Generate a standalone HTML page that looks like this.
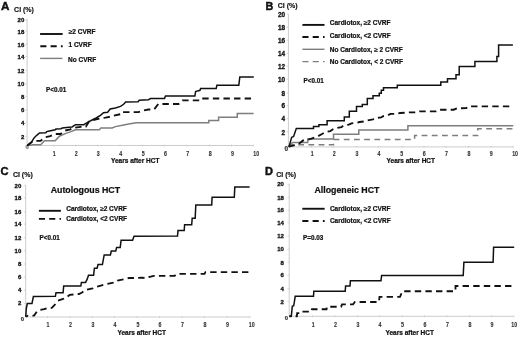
<!DOCTYPE html>
<html><head><meta charset="utf-8"><style>
html,body{margin:0;padding:0;background:#fff;}
svg{display:block;will-change:transform;}
text{font-family:"Liberation Sans", sans-serif;}
</style></head><body>
<svg width="520" height="338" viewBox="0 0 520 338">
<rect width="520" height="338" fill="#fff"/>
<text x="1.0" y="9.5" font-size="11.7" font-weight="bold" text-anchor="start" fill="#111" stroke="#111" stroke-width="0.45">A</text>
<text x="14.1" y="11.6" font-size="7.0" font-weight="bold" text-anchor="start" fill="#111" stroke="#111" stroke-width="0.15">CI (%)</text>
<line x1="27.1" y1="18.8" x2="27.1" y2="145.5" stroke="#cdcdcd" stroke-width="1"/>
<line x1="27.1" y1="145.5" x2="253.5" y2="145.5" stroke="#cdcdcd" stroke-width="1"/>
<line x1="25.3" y1="19.8" x2="27.1" y2="19.8" stroke="#cdcdcd" stroke-width="0.8"/>
<text x="24.3" y="22.3" font-size="6.0" font-weight="bold" text-anchor="end" fill="#111" stroke="#111" stroke-width="0.3">20</text>
<line x1="25.3" y1="31.35" x2="27.1" y2="31.35" stroke="#cdcdcd" stroke-width="0.8"/>
<text x="24.3" y="33.85" font-size="6.0" font-weight="bold" text-anchor="end" fill="#111" stroke="#111" stroke-width="0.3">18</text>
<line x1="25.3" y1="44.4" x2="27.1" y2="44.4" stroke="#cdcdcd" stroke-width="0.8"/>
<text x="24.3" y="46.9" font-size="6.0" font-weight="bold" text-anchor="end" fill="#111" stroke="#111" stroke-width="0.3">16</text>
<line x1="25.3" y1="56.5" x2="27.1" y2="56.5" stroke="#cdcdcd" stroke-width="0.8"/>
<text x="24.3" y="59.0" font-size="6.0" font-weight="bold" text-anchor="end" fill="#111" stroke="#111" stroke-width="0.3">14</text>
<line x1="25.3" y1="70.39999999999999" x2="27.1" y2="70.39999999999999" stroke="#cdcdcd" stroke-width="0.8"/>
<text x="24.3" y="72.89999999999999" font-size="6.0" font-weight="bold" text-anchor="end" fill="#111" stroke="#111" stroke-width="0.3">12</text>
<line x1="25.3" y1="83.6" x2="27.1" y2="83.6" stroke="#cdcdcd" stroke-width="0.8"/>
<text x="24.3" y="86.1" font-size="6.0" font-weight="bold" text-anchor="end" fill="#111" stroke="#111" stroke-width="0.3">10</text>
<line x1="25.3" y1="96.6" x2="27.1" y2="96.6" stroke="#cdcdcd" stroke-width="0.8"/>
<text x="24.3" y="99.1" font-size="6.0" font-weight="bold" text-anchor="end" fill="#111" stroke="#111" stroke-width="0.3">8</text>
<line x1="25.3" y1="109.8" x2="27.1" y2="109.8" stroke="#cdcdcd" stroke-width="0.8"/>
<text x="24.3" y="112.3" font-size="6.0" font-weight="bold" text-anchor="end" fill="#111" stroke="#111" stroke-width="0.3">6</text>
<line x1="25.3" y1="122.8" x2="27.1" y2="122.8" stroke="#cdcdcd" stroke-width="0.8"/>
<text x="24.3" y="125.3" font-size="6.0" font-weight="bold" text-anchor="end" fill="#111" stroke="#111" stroke-width="0.3">4</text>
<line x1="25.3" y1="136.4" x2="27.1" y2="136.4" stroke="#cdcdcd" stroke-width="0.8"/>
<text x="24.3" y="138.9" font-size="6.0" font-weight="bold" text-anchor="end" fill="#111" stroke="#111" stroke-width="0.3">2</text>
<text x="27.1" y="149.0" font-size="5.9" font-weight="bold" text-anchor="middle" fill="#777" stroke="#777" stroke-width="0.22">0</text>
<line x1="53.7" y1="144.5" x2="53.7" y2="146.5" stroke="#cdcdcd" stroke-width="0.8"/>
<text x="54.3" y="155.6" font-size="6.6" font-weight="bold" text-anchor="middle" fill="#333" stroke="#333" stroke-width="0.12" transform="translate(54.3 0) scale(0.8 1) translate(-54.3 0)">1</text>
<line x1="75.7" y1="144.5" x2="75.7" y2="146.5" stroke="#cdcdcd" stroke-width="0.8"/>
<text x="76.25" y="155.6" font-size="6.6" font-weight="bold" text-anchor="middle" fill="#333" stroke="#333" stroke-width="0.12" transform="translate(76.25 0) scale(0.8 1) translate(-76.25 0)">2</text>
<line x1="97.7" y1="144.5" x2="97.7" y2="146.5" stroke="#cdcdcd" stroke-width="0.8"/>
<text x="98.25" y="155.6" font-size="6.6" font-weight="bold" text-anchor="middle" fill="#333" stroke="#333" stroke-width="0.12" transform="translate(98.25 0) scale(0.8 1) translate(-98.25 0)">3</text>
<line x1="120.0" y1="144.5" x2="120.0" y2="146.5" stroke="#cdcdcd" stroke-width="0.8"/>
<text x="120.75" y="155.6" font-size="6.6" font-weight="bold" text-anchor="middle" fill="#333" stroke="#333" stroke-width="0.12" transform="translate(120.75 0) scale(0.8 1) translate(-120.75 0)">4</text>
<line x1="142.5" y1="144.5" x2="142.5" y2="146.5" stroke="#cdcdcd" stroke-width="0.8"/>
<text x="143.25" y="155.6" font-size="6.6" font-weight="bold" text-anchor="middle" fill="#333" stroke="#333" stroke-width="0.12" transform="translate(143.25 0) scale(0.8 1) translate(-143.25 0)">5</text>
<line x1="164.5" y1="144.5" x2="164.5" y2="146.5" stroke="#cdcdcd" stroke-width="0.8"/>
<text x="165.5" y="155.6" font-size="6.6" font-weight="bold" text-anchor="middle" fill="#333" stroke="#333" stroke-width="0.12" transform="translate(165.5 0) scale(0.8 1) translate(-165.5 0)">6</text>
<line x1="187.0" y1="144.5" x2="187.0" y2="146.5" stroke="#cdcdcd" stroke-width="0.8"/>
<text x="187.75" y="155.6" font-size="6.6" font-weight="bold" text-anchor="middle" fill="#333" stroke="#333" stroke-width="0.12" transform="translate(187.75 0) scale(0.8 1) translate(-187.75 0)">7</text>
<line x1="209.5" y1="144.5" x2="209.5" y2="146.5" stroke="#cdcdcd" stroke-width="0.8"/>
<text x="210.3" y="155.6" font-size="6.6" font-weight="bold" text-anchor="middle" fill="#333" stroke="#333" stroke-width="0.12" transform="translate(210.3 0) scale(0.8 1) translate(-210.3 0)">8</text>
<line x1="231.4" y1="144.5" x2="231.4" y2="146.5" stroke="#cdcdcd" stroke-width="0.8"/>
<text x="232.6" y="155.6" font-size="6.6" font-weight="bold" text-anchor="middle" fill="#333" stroke="#333" stroke-width="0.12" transform="translate(232.6 0) scale(0.8 1) translate(-232.6 0)">9</text>
<line x1="253.3" y1="144.5" x2="253.3" y2="146.5" stroke="#cdcdcd" stroke-width="0.8"/>
<text x="256.3" y="155.6" font-size="6.6" font-weight="bold" text-anchor="middle" fill="#333" stroke="#333" stroke-width="0.12" transform="translate(256.3 0) scale(0.8 1) translate(-256.3 0)">10</text>
<text x="111.0" y="162.5" font-size="6.5" font-weight="bold" text-anchor="start" fill="#111" stroke="#111" stroke-width="0.22">Years after HCT</text>
<line x1="40.1" y1="34.0" x2="62.65" y2="34.0" stroke="#111" stroke-width="1.9"/>
<text x="68.75" y="34.4" font-size="6.5" font-weight="bold" text-anchor="start" fill="#111" stroke="#111" stroke-width="0.22">≥2 CVRF</text>
<line x1="40.3" y1="46.3" x2="62.65" y2="46.3" stroke="#111" stroke-width="1.9" stroke-dasharray="6.1,4.2"/>
<text x="68.5" y="47.4" font-size="6.5" font-weight="bold" text-anchor="start" fill="#111" stroke="#111" stroke-width="0.22">1 CVRF</text>
<line x1="40.1" y1="58.4" x2="62.4" y2="58.4" stroke="#7e7e7e" stroke-width="1.4"/>
<text x="68.0" y="61.8" font-size="6.5" font-weight="bold" text-anchor="start" fill="#111" stroke="#111" stroke-width="0.22">No CVRF</text>
<text x="46.0" y="92.1" font-size="6.3" font-weight="bold" text-anchor="start" fill="#111" stroke="#111" stroke-width="0.22">P&lt;0.01</text>
<polyline points="27.3,145.5 33.3,144.7 40.7,144.7 44.5,140.8 55.2,140.8 59.4,136.2 65.8,133.4 70.4,131.9 75.5,129.8 99.3,129.8 100.9,128.0 112.2,128.0 115.4,126.6 123.6,125.0 128.8,124.0 136.1,122.7 208.8,122.7 208.8,120.5 218.6,120.5 218.6,117.3 237.3,117.3 237.3,113.5 253.6,113.5" fill="none" stroke="#7e7e7e" stroke-width="1.5"/>
<polyline points="27.3,145.6 29.5,143.8 31.5,142.2 33.5,141.0 36.0,140.8 40.6,140.8 45.2,137.3 50.2,136.2 55.2,134.0 60.5,134.0 65.1,130.5 70.4,129.3 72.0,128.0 74.5,127.8 80.7,126.9 85.9,126.7 89.0,121.6 95.2,119.5 99.9,118.5 105.5,117.6 110.2,116.7 113.3,115.7 120.5,114.2 121.6,112.1 138.1,112.1 143.3,110.5 148.5,109.5 154.1,109.5 158.3,104.0 178.6,104.0 180.6,101.9 182.5,100.4 199.6,100.4 200.6,98.5 253.8,98.5" fill="none" stroke="#111" stroke-width="1.85" stroke-dasharray="6.4,4.2" stroke-dashoffset="0"/>
<polyline points="27.3,145.6 29.5,143.8 31.5,142.2 33.0,139.6 34.3,137.7 36.2,135.8 37.6,134.6 39.6,133.0 45.9,132.7 46.7,131.6 49.5,130.9 55.2,129.8 55.9,129.1 60.9,128.7 62.3,128.0 68.7,127.3 72.0,127.0 75.5,124.7 83.8,124.7 88.0,122.1 92.1,120.0 96.2,118.0 100.4,115.4 103.5,112.8 107.6,112.2 110.2,109.0 115.4,107.9 120.5,106.4 123.6,104.3 125.7,102.0 138.1,101.7 139.2,100.2 148.5,99.7 150.5,98.6 164.5,98.6 165.5,96.0 194.9,96.0 195.6,91.6 197.6,90.9 200.0,90.3 200.6,88.5 216.2,88.5 216.9,85.2 238.8,85.2 239.8,76.9 253.8,76.9" fill="none" stroke="#111" stroke-width="1.5" stroke-linejoin="miter"/>
<text x="265.6" y="9.6" font-size="10.8" font-weight="bold" text-anchor="start" fill="#111" stroke="#111" stroke-width="0.45">B</text>
<text x="277.7" y="7.9" font-size="7.0" font-weight="bold" text-anchor="start" fill="#111" stroke="#111" stroke-width="0.15">CI (%)</text>
<line x1="288.4" y1="14.2" x2="288.4" y2="146.9" stroke="#cdcdcd" stroke-width="1"/>
<line x1="288.4" y1="146.9" x2="513.3" y2="146.9" stroke="#cdcdcd" stroke-width="1"/>
<line x1="286.59999999999997" y1="14.0" x2="288.4" y2="14.0" stroke="#cdcdcd" stroke-width="0.8"/>
<text x="285.0" y="16.7" font-size="6.4" font-weight="bold" text-anchor="end" fill="#111" stroke="#111" stroke-width="0.3">20</text>
<line x1="286.59999999999997" y1="27.200000000000003" x2="288.4" y2="27.200000000000003" stroke="#cdcdcd" stroke-width="0.8"/>
<text x="285.0" y="29.900000000000002" font-size="6.4" font-weight="bold" text-anchor="end" fill="#111" stroke="#111" stroke-width="0.3">18</text>
<line x1="286.59999999999997" y1="40.2" x2="288.4" y2="40.2" stroke="#cdcdcd" stroke-width="0.8"/>
<text x="285.0" y="42.9" font-size="6.4" font-weight="bold" text-anchor="end" fill="#111" stroke="#111" stroke-width="0.3">16</text>
<line x1="286.59999999999997" y1="53.5" x2="288.4" y2="53.5" stroke="#cdcdcd" stroke-width="0.8"/>
<text x="285.0" y="56.199999999999996" font-size="6.4" font-weight="bold" text-anchor="end" fill="#111" stroke="#111" stroke-width="0.3">14</text>
<line x1="286.59999999999997" y1="66.1" x2="288.4" y2="66.1" stroke="#cdcdcd" stroke-width="0.8"/>
<text x="285.0" y="68.8" font-size="6.4" font-weight="bold" text-anchor="end" fill="#111" stroke="#111" stroke-width="0.3">12</text>
<line x1="286.59999999999997" y1="79.1" x2="288.4" y2="79.1" stroke="#cdcdcd" stroke-width="0.8"/>
<text x="285.0" y="81.8" font-size="6.4" font-weight="bold" text-anchor="end" fill="#111" stroke="#111" stroke-width="0.3">10</text>
<line x1="286.59999999999997" y1="93.0" x2="288.4" y2="93.0" stroke="#cdcdcd" stroke-width="0.8"/>
<text x="285.0" y="95.7" font-size="6.4" font-weight="bold" text-anchor="end" fill="#111" stroke="#111" stroke-width="0.3">8</text>
<line x1="286.59999999999997" y1="105.6" x2="288.4" y2="105.6" stroke="#cdcdcd" stroke-width="0.8"/>
<text x="285.0" y="108.3" font-size="6.4" font-weight="bold" text-anchor="end" fill="#111" stroke="#111" stroke-width="0.3">6</text>
<line x1="286.59999999999997" y1="118.69999999999999" x2="288.4" y2="118.69999999999999" stroke="#cdcdcd" stroke-width="0.8"/>
<text x="285.0" y="121.39999999999999" font-size="6.4" font-weight="bold" text-anchor="end" fill="#111" stroke="#111" stroke-width="0.3">4</text>
<line x1="286.59999999999997" y1="131.79999999999998" x2="288.4" y2="131.79999999999998" stroke="#cdcdcd" stroke-width="0.8"/>
<text x="285.0" y="134.5" font-size="6.4" font-weight="bold" text-anchor="end" fill="#111" stroke="#111" stroke-width="0.3">2</text>
<text x="286.4" y="150.7" font-size="6.4" font-weight="bold" text-anchor="middle" fill="#333" stroke="#333" stroke-width="0.22">0</text>
<line x1="311.5" y1="145.9" x2="311.5" y2="147.9" stroke="#cdcdcd" stroke-width="0.8"/>
<text x="312.3" y="156.2" font-size="6.6" font-weight="bold" text-anchor="middle" fill="#333" stroke="#333" stroke-width="0.12" transform="translate(312.3 0) scale(0.8 1) translate(-312.3 0)">1</text>
<line x1="333.7" y1="145.9" x2="333.7" y2="147.9" stroke="#cdcdcd" stroke-width="0.8"/>
<text x="334.3" y="156.2" font-size="6.6" font-weight="bold" text-anchor="middle" fill="#333" stroke="#333" stroke-width="0.12" transform="translate(334.3 0) scale(0.8 1) translate(-334.3 0)">2</text>
<line x1="356.0" y1="145.9" x2="356.0" y2="147.9" stroke="#cdcdcd" stroke-width="0.8"/>
<text x="356.9" y="156.2" font-size="6.6" font-weight="bold" text-anchor="middle" fill="#333" stroke="#333" stroke-width="0.12" transform="translate(356.9 0) scale(0.8 1) translate(-356.9 0)">3</text>
<line x1="378.3" y1="145.9" x2="378.3" y2="147.9" stroke="#cdcdcd" stroke-width="0.8"/>
<text x="378.9" y="156.2" font-size="6.6" font-weight="bold" text-anchor="middle" fill="#333" stroke="#333" stroke-width="0.12" transform="translate(378.9 0) scale(0.8 1) translate(-378.9 0)">4</text>
<line x1="402.2" y1="145.9" x2="402.2" y2="147.9" stroke="#cdcdcd" stroke-width="0.8"/>
<text x="401.8" y="156.2" font-size="6.6" font-weight="bold" text-anchor="middle" fill="#333" stroke="#333" stroke-width="0.12" transform="translate(401.8 0) scale(0.8 1) translate(-401.8 0)">5</text>
<line x1="424.0" y1="145.9" x2="424.0" y2="147.9" stroke="#cdcdcd" stroke-width="0.8"/>
<text x="424.3" y="156.2" font-size="6.6" font-weight="bold" text-anchor="middle" fill="#333" stroke="#333" stroke-width="0.12" transform="translate(424.3 0) scale(0.8 1) translate(-424.3 0)">6</text>
<line x1="446.0" y1="145.9" x2="446.0" y2="147.9" stroke="#cdcdcd" stroke-width="0.8"/>
<text x="446.4" y="156.2" font-size="6.6" font-weight="bold" text-anchor="middle" fill="#333" stroke="#333" stroke-width="0.12" transform="translate(446.4 0) scale(0.8 1) translate(-446.4 0)">7</text>
<line x1="468.5" y1="145.9" x2="468.5" y2="147.9" stroke="#cdcdcd" stroke-width="0.8"/>
<text x="469.0" y="156.2" font-size="6.6" font-weight="bold" text-anchor="middle" fill="#333" stroke="#333" stroke-width="0.12" transform="translate(469.0 0) scale(0.8 1) translate(-469.0 0)">8</text>
<line x1="491.0" y1="145.9" x2="491.0" y2="147.9" stroke="#cdcdcd" stroke-width="0.8"/>
<text x="491.3" y="156.2" font-size="6.6" font-weight="bold" text-anchor="middle" fill="#333" stroke="#333" stroke-width="0.12" transform="translate(491.3 0) scale(0.8 1) translate(-491.3 0)">9</text>
<line x1="513.3" y1="145.9" x2="513.3" y2="147.9" stroke="#cdcdcd" stroke-width="0.8"/>
<text x="515.1" y="156.2" font-size="6.6" font-weight="bold" text-anchor="middle" fill="#333" stroke="#333" stroke-width="0.12" transform="translate(515.1 0) scale(0.8 1) translate(-515.1 0)">10</text>
<text x="386.6" y="162.5" font-size="6.5" font-weight="bold" text-anchor="start" fill="#111" stroke="#111" stroke-width="0.22">Years after HCT</text>
<line x1="302.4" y1="24.9" x2="324.5" y2="24.9" stroke="#111" stroke-width="1.9"/>
<text x="329.8" y="25.0" font-size="6.5" font-weight="bold" text-anchor="start" fill="#111" stroke="#111" stroke-width="0.22">Cardiotox, ≥2 CVRF</text>
<line x1="302.4" y1="37.05" x2="324.6" y2="37.05" stroke="#111" stroke-width="1.9" stroke-dasharray="6.1,4.2"/>
<text x="329.8" y="37.5" font-size="6.5" font-weight="bold" text-anchor="start" fill="#111" stroke="#111" stroke-width="0.22">Cardiotox, &lt;2 CVRF</text>
<line x1="302.4" y1="49.3" x2="324.5" y2="49.3" stroke="#7e7e7e" stroke-width="1.4"/>
<text x="329.8" y="52.1" font-size="6.5" font-weight="bold" text-anchor="start" fill="#111" stroke="#111" stroke-width="0.22">No Cardiotox, ≥ 2 CVRF</text>
<line x1="302.4" y1="61.6" x2="324.6" y2="61.6" stroke="#7e7e7e" stroke-width="1.4" stroke-dasharray="6.1,4.2"/>
<text x="329.8" y="64.0" font-size="6.5" font-weight="bold" text-anchor="start" fill="#111" stroke="#111" stroke-width="0.22">No Cardiotox, &lt; 2 CVRF</text>
<text x="303.6" y="82.7" font-size="6.3" font-weight="bold" text-anchor="start" fill="#111" stroke="#111" stroke-width="0.22">P&lt;0.01</text>
<polyline points="288.6,146.6 291.0,144.8 333.5,144.8 333.5,139.4 414.6,139.4 414.6,135.6 477.7,135.6 477.7,128.8 513.3,128.8" fill="none" stroke="#7e7e7e" stroke-width="1.5" stroke-dasharray="5.8,4.4"/>
<polyline points="288.6,146.6 292.5,142.5 307.7,142.4 307.7,139.0 333.5,139.0 333.5,134.3 358.8,134.3 358.8,130.0 407.9,130.0 407.9,125.7 513.3,125.7" fill="none" stroke="#7e7e7e" stroke-width="1.5"/>
<polyline points="288.6,146.6 293.0,145.6 297.5,144.5 300.2,142.7 303.0,140.5 307.7,139.8 311.3,138.7 315.5,137.2 318.6,135.8 322.5,133.7 325.5,131.9 330.3,131.1 332.9,129.3 336.3,128.0 341.5,127.2 343.5,125.4 348.8,124.7 351.5,123.4 356.9,122.7 359.6,122.0 365.0,121.3 367.7,120.3 373.0,119.3 375.8,118.0 381.1,117.3 383.8,116.0 387.9,115.3 390.6,113.9 396.0,113.9 400.0,113.0 409.7,112.4 416.2,112.4 419.4,111.3 436.0,111.3 439.0,109.7 453.6,109.7 456.9,108.4 466.3,108.1 468.9,106.3 511.7,106.3" fill="none" stroke="#111" stroke-width="1.85" stroke-dasharray="6.4,4.2" stroke-dashoffset="0"/>
<polyline points="288.6,146.6 289.2,146.2 291.6,137.4 293.6,136.4 296.3,128.5 313.5,128.5 313.5,126.6 318.9,126.6 318.9,124.8 327.1,124.8 327.1,120.7 344.3,120.7 344.3,117.0 349.3,117.0 349.3,111.2 356.5,111.2 356.5,106.5 362.3,106.5 362.3,104.5 367.3,104.5 367.3,98.5 373.0,98.5 373.0,95.8 379.3,95.8 379.3,93.3 381.3,93.3 381.3,90.3 383.5,90.3 383.5,87.7 397.3,87.7 397.3,85.2 440.8,85.2 440.8,82.0 447.5,82.0 447.5,78.7 456.0,78.7 456.0,74.7 459.2,74.7 459.2,66.5 474.9,66.5 474.9,61.5 496.9,61.5 496.9,56.4 498.6,56.4 498.6,45.1 512.9,45.1" fill="none" stroke="#111" stroke-width="1.5" stroke-linejoin="miter"/>
<text x="0.6" y="174.9" font-size="11.2" font-weight="bold" text-anchor="start" fill="#111" stroke="#111" stroke-width="0.45">C</text>
<text x="12.9" y="176.6" font-size="7.0" font-weight="bold" text-anchor="start" fill="#111" stroke="#111" stroke-width="0.15">CI (%)</text>
<line x1="25.7" y1="185.0" x2="25.7" y2="317.0" stroke="#cdcdcd" stroke-width="1"/>
<line x1="25.7" y1="317.0" x2="250.0" y2="317.0" stroke="#cdcdcd" stroke-width="1"/>
<line x1="23.9" y1="185.4" x2="25.7" y2="185.4" stroke="#cdcdcd" stroke-width="0.8"/>
<text x="21.3" y="187.5" font-size="6.0" font-weight="bold" text-anchor="end" fill="#111" stroke="#111" stroke-width="0.3">20</text>
<line x1="23.9" y1="197.79999999999998" x2="25.7" y2="197.79999999999998" stroke="#cdcdcd" stroke-width="0.8"/>
<text x="21.3" y="199.89999999999998" font-size="6.0" font-weight="bold" text-anchor="end" fill="#111" stroke="#111" stroke-width="0.3">18</text>
<line x1="23.9" y1="212.1" x2="25.7" y2="212.1" stroke="#cdcdcd" stroke-width="0.8"/>
<text x="21.3" y="214.2" font-size="6.0" font-weight="bold" text-anchor="end" fill="#111" stroke="#111" stroke-width="0.3">16</text>
<line x1="23.9" y1="224.1" x2="25.7" y2="224.1" stroke="#cdcdcd" stroke-width="0.8"/>
<text x="21.3" y="226.2" font-size="6.0" font-weight="bold" text-anchor="end" fill="#111" stroke="#111" stroke-width="0.3">14</text>
<line x1="23.9" y1="237.6" x2="25.7" y2="237.6" stroke="#cdcdcd" stroke-width="0.8"/>
<text x="21.3" y="239.7" font-size="6.0" font-weight="bold" text-anchor="end" fill="#111" stroke="#111" stroke-width="0.3">12</text>
<line x1="23.9" y1="250.7" x2="25.7" y2="250.7" stroke="#cdcdcd" stroke-width="0.8"/>
<text x="21.3" y="252.79999999999998" font-size="6.0" font-weight="bold" text-anchor="end" fill="#111" stroke="#111" stroke-width="0.3">10</text>
<line x1="23.9" y1="264.0" x2="25.7" y2="264.0" stroke="#cdcdcd" stroke-width="0.8"/>
<text x="21.3" y="266.09999999999997" font-size="6.0" font-weight="bold" text-anchor="end" fill="#111" stroke="#111" stroke-width="0.3">8</text>
<line x1="23.9" y1="277.0" x2="25.7" y2="277.0" stroke="#cdcdcd" stroke-width="0.8"/>
<text x="21.3" y="279.09999999999997" font-size="6.0" font-weight="bold" text-anchor="end" fill="#111" stroke="#111" stroke-width="0.3">6</text>
<line x1="23.9" y1="290.20000000000005" x2="25.7" y2="290.20000000000005" stroke="#cdcdcd" stroke-width="0.8"/>
<text x="21.3" y="292.3" font-size="6.0" font-weight="bold" text-anchor="end" fill="#111" stroke="#111" stroke-width="0.3">4</text>
<line x1="23.9" y1="303.3" x2="25.7" y2="303.3" stroke="#cdcdcd" stroke-width="0.8"/>
<text x="21.3" y="305.4" font-size="6.0" font-weight="bold" text-anchor="end" fill="#111" stroke="#111" stroke-width="0.3">2</text>
<text x="22.5" y="320.70000000000005" font-size="5.9" font-weight="bold" text-anchor="middle" fill="#333" stroke="#333" stroke-width="0.22">0</text>
<line x1="47.5" y1="316.0" x2="47.5" y2="318.0" stroke="#cdcdcd" stroke-width="0.8"/>
<text x="48.0" y="326.7" font-size="6.6" font-weight="bold" text-anchor="middle" fill="#333" stroke="#333" stroke-width="0.12" transform="translate(48.0 0) scale(0.8 1) translate(-48.0 0)">1</text>
<line x1="70.0" y1="316.0" x2="70.0" y2="318.0" stroke="#cdcdcd" stroke-width="0.8"/>
<text x="70.5" y="326.7" font-size="6.6" font-weight="bold" text-anchor="middle" fill="#333" stroke="#333" stroke-width="0.12" transform="translate(70.5 0) scale(0.8 1) translate(-70.5 0)">2</text>
<line x1="92.5" y1="316.0" x2="92.5" y2="318.0" stroke="#cdcdcd" stroke-width="0.8"/>
<text x="93.0" y="326.7" font-size="6.6" font-weight="bold" text-anchor="middle" fill="#333" stroke="#333" stroke-width="0.12" transform="translate(93.0 0) scale(0.8 1) translate(-93.0 0)">3</text>
<line x1="114.5" y1="316.0" x2="114.5" y2="318.0" stroke="#cdcdcd" stroke-width="0.8"/>
<text x="115.0" y="326.7" font-size="6.6" font-weight="bold" text-anchor="middle" fill="#333" stroke="#333" stroke-width="0.12" transform="translate(115.0 0) scale(0.8 1) translate(-115.0 0)">4</text>
<line x1="137.0" y1="316.0" x2="137.0" y2="318.0" stroke="#cdcdcd" stroke-width="0.8"/>
<text x="138.0" y="326.7" font-size="6.6" font-weight="bold" text-anchor="middle" fill="#333" stroke="#333" stroke-width="0.12" transform="translate(138.0 0) scale(0.8 1) translate(-138.0 0)">5</text>
<line x1="159.5" y1="316.0" x2="159.5" y2="318.0" stroke="#cdcdcd" stroke-width="0.8"/>
<text x="160.0" y="326.7" font-size="6.6" font-weight="bold" text-anchor="middle" fill="#333" stroke="#333" stroke-width="0.12" transform="translate(160.0 0) scale(0.8 1) translate(-160.0 0)">6</text>
<line x1="182.0" y1="316.0" x2="182.0" y2="318.0" stroke="#cdcdcd" stroke-width="0.8"/>
<text x="182.5" y="326.7" font-size="6.6" font-weight="bold" text-anchor="middle" fill="#333" stroke="#333" stroke-width="0.12" transform="translate(182.5 0) scale(0.8 1) translate(-182.5 0)">7</text>
<line x1="204.5" y1="316.0" x2="204.5" y2="318.0" stroke="#cdcdcd" stroke-width="0.8"/>
<text x="205.0" y="326.7" font-size="6.6" font-weight="bold" text-anchor="middle" fill="#333" stroke="#333" stroke-width="0.12" transform="translate(205.0 0) scale(0.8 1) translate(-205.0 0)">8</text>
<line x1="227.0" y1="316.0" x2="227.0" y2="318.0" stroke="#cdcdcd" stroke-width="0.8"/>
<text x="227.5" y="326.7" font-size="6.6" font-weight="bold" text-anchor="middle" fill="#333" stroke="#333" stroke-width="0.12" transform="translate(227.5 0) scale(0.8 1) translate(-227.5 0)">9</text>
<line x1="250.0" y1="316.0" x2="250.0" y2="318.0" stroke="#cdcdcd" stroke-width="0.8"/>
<text x="251.8" y="326.7" font-size="6.6" font-weight="bold" text-anchor="middle" fill="#333" stroke="#333" stroke-width="0.12" transform="translate(251.8 0) scale(0.8 1) translate(-251.8 0)">10</text>
<text x="117.5" y="334.5" font-size="6.5" font-weight="bold" text-anchor="start" fill="#111" stroke="#111" stroke-width="0.22">Years after HCT</text>
<text x="50.7" y="192.7" font-size="8.8" font-weight="bold" text-anchor="start" fill="#111" stroke="#111" stroke-width="0.22">Autologous HCT</text>
<line x1="38.9" y1="210.8" x2="60.9" y2="210.8" stroke="#111" stroke-width="1.9"/>
<text x="66.2" y="211.2" font-size="6.5" font-weight="bold" text-anchor="start" fill="#111" stroke="#111" stroke-width="0.22">Cardiotox, ≥2 CVRF</text>
<line x1="38.9" y1="218.9" x2="61.0" y2="218.9" stroke="#111" stroke-width="1.9" stroke-dasharray="6.1,4.2"/>
<text x="66.2" y="221.2" font-size="6.5" font-weight="bold" text-anchor="start" fill="#111" stroke="#111" stroke-width="0.22">Cardiotox, &lt;2 CVRF</text>
<text x="39.6" y="240.0" font-size="6.3" font-weight="bold" text-anchor="start" fill="#111" stroke="#111" stroke-width="0.22">P&lt;0.01</text>
<polyline points="25.7,316.7 27.8,315.6 34.1,315.6 37.0,311.3 39.8,309.9 44.1,309.2 47.6,307.9 51.8,307.9 54.2,305.5 57.8,300.8 63.1,299.0 66.6,297.2 69.6,294.9 79.0,294.0 82.0,292.5 85.0,290.1 92.7,288.3 96.8,286.6 100.0,285.8 106.0,284.2 114.9,282.4 117.5,280.6 122.0,279.7 129.0,278.0 136.2,278.0 141.5,277.6 145.8,278.2 149.8,276.8 153.8,275.8 174.6,275.8 176.9,273.9 204.5,273.9 205.5,272.1 249.5,272.1" fill="none" stroke="#111" stroke-width="1.85" stroke-dasharray="6.4,4.2" stroke-dashoffset="3.6"/>
<polyline points="25.7,316.7 26.3,308.5 27.3,303.5 32.0,303.5 33.4,296.4 55.4,296.3 56.0,292.7 63.1,292.7 63.7,286.0 80.8,286.0 81.4,282.4 85.6,282.4 87.3,278.9 88.5,275.3 93.6,275.3 94.4,268.2 97.1,268.2 98.0,264.6 102.4,264.6 104.2,254.9 110.4,254.9 111.3,251.0 115.8,251.0 116.6,247.4 120.2,247.4 121.1,240.3 132.6,240.3 134.0,236.2 177.5,235.9 178.0,230.6 184.2,230.6 184.6,224.8 191.7,224.8 192.2,218.2 195.2,218.2 195.8,204.9 211.7,204.9 212.1,197.2 234.3,197.2 234.8,187.1 249.6,187.1" fill="none" stroke="#111" stroke-width="1.5" stroke-linejoin="miter"/>
<text x="265.0" y="174.7" font-size="11.0" font-weight="bold" text-anchor="start" fill="#111" stroke="#111" stroke-width="0.45">D</text>
<text x="276.2" y="176.6" font-size="7.0" font-weight="bold" text-anchor="start" fill="#111" stroke="#111" stroke-width="0.15">CI (%)</text>
<line x1="289.2" y1="184.0" x2="289.2" y2="316.3" stroke="#cdcdcd" stroke-width="1"/>
<line x1="289.2" y1="316.3" x2="513.8" y2="316.3" stroke="#cdcdcd" stroke-width="1"/>
<line x1="287.4" y1="184.2" x2="289.2" y2="184.2" stroke="#cdcdcd" stroke-width="0.8"/>
<text x="283.9" y="186.4" font-size="6.0" font-weight="bold" text-anchor="end" fill="#111" stroke="#111" stroke-width="0.3">20</text>
<line x1="287.4" y1="197.29999999999998" x2="289.2" y2="197.29999999999998" stroke="#cdcdcd" stroke-width="0.8"/>
<text x="283.9" y="199.5" font-size="6.0" font-weight="bold" text-anchor="end" fill="#111" stroke="#111" stroke-width="0.3">18</text>
<line x1="287.4" y1="210.1" x2="289.2" y2="210.1" stroke="#cdcdcd" stroke-width="0.8"/>
<text x="283.9" y="212.3" font-size="6.0" font-weight="bold" text-anchor="end" fill="#111" stroke="#111" stroke-width="0.3">16</text>
<line x1="287.4" y1="222.7" x2="289.2" y2="222.7" stroke="#cdcdcd" stroke-width="0.8"/>
<text x="283.9" y="224.9" font-size="6.0" font-weight="bold" text-anchor="end" fill="#111" stroke="#111" stroke-width="0.3">14</text>
<line x1="287.4" y1="236.0" x2="289.2" y2="236.0" stroke="#cdcdcd" stroke-width="0.8"/>
<text x="283.9" y="238.20000000000002" font-size="6.0" font-weight="bold" text-anchor="end" fill="#111" stroke="#111" stroke-width="0.3">12</text>
<line x1="287.4" y1="249.1" x2="289.2" y2="249.1" stroke="#cdcdcd" stroke-width="0.8"/>
<text x="283.9" y="251.3" font-size="6.0" font-weight="bold" text-anchor="end" fill="#111" stroke="#111" stroke-width="0.3">10</text>
<line x1="287.4" y1="262.40000000000003" x2="289.2" y2="262.40000000000003" stroke="#cdcdcd" stroke-width="0.8"/>
<text x="283.9" y="264.6" font-size="6.0" font-weight="bold" text-anchor="end" fill="#111" stroke="#111" stroke-width="0.3">8</text>
<line x1="287.4" y1="275.20000000000005" x2="289.2" y2="275.20000000000005" stroke="#cdcdcd" stroke-width="0.8"/>
<text x="283.9" y="277.40000000000003" font-size="6.0" font-weight="bold" text-anchor="end" fill="#111" stroke="#111" stroke-width="0.3">6</text>
<line x1="287.4" y1="288.8" x2="289.2" y2="288.8" stroke="#cdcdcd" stroke-width="0.8"/>
<text x="283.9" y="291.0" font-size="6.0" font-weight="bold" text-anchor="end" fill="#111" stroke="#111" stroke-width="0.3">4</text>
<line x1="287.4" y1="301.6" x2="289.2" y2="301.6" stroke="#cdcdcd" stroke-width="0.8"/>
<text x="283.9" y="303.8" font-size="6.0" font-weight="bold" text-anchor="end" fill="#111" stroke="#111" stroke-width="0.3">2</text>
<text x="286.3" y="320.3" font-size="5.9" font-weight="bold" text-anchor="middle" fill="#333" stroke="#333" stroke-width="0.22">0</text>
<line x1="312.5" y1="315.3" x2="312.5" y2="317.3" stroke="#cdcdcd" stroke-width="0.8"/>
<text x="313.2" y="326.7" font-size="6.6" font-weight="bold" text-anchor="middle" fill="#333" stroke="#333" stroke-width="0.12" transform="translate(313.2 0) scale(0.8 1) translate(-313.2 0)">1</text>
<line x1="335.0" y1="315.3" x2="335.0" y2="317.3" stroke="#cdcdcd" stroke-width="0.8"/>
<text x="335.5" y="326.7" font-size="6.6" font-weight="bold" text-anchor="middle" fill="#333" stroke="#333" stroke-width="0.12" transform="translate(335.5 0) scale(0.8 1) translate(-335.5 0)">2</text>
<line x1="357.5" y1="315.3" x2="357.5" y2="317.3" stroke="#cdcdcd" stroke-width="0.8"/>
<text x="358.0" y="326.7" font-size="6.6" font-weight="bold" text-anchor="middle" fill="#333" stroke="#333" stroke-width="0.12" transform="translate(358.0 0) scale(0.8 1) translate(-358.0 0)">3</text>
<line x1="379.5" y1="315.3" x2="379.5" y2="317.3" stroke="#cdcdcd" stroke-width="0.8"/>
<text x="380.0" y="326.7" font-size="6.6" font-weight="bold" text-anchor="middle" fill="#333" stroke="#333" stroke-width="0.12" transform="translate(380.0 0) scale(0.8 1) translate(-380.0 0)">4</text>
<line x1="402.0" y1="315.3" x2="402.0" y2="317.3" stroke="#cdcdcd" stroke-width="0.8"/>
<text x="402.5" y="326.7" font-size="6.6" font-weight="bold" text-anchor="middle" fill="#333" stroke="#333" stroke-width="0.12" transform="translate(402.5 0) scale(0.8 1) translate(-402.5 0)">5</text>
<line x1="424.5" y1="315.3" x2="424.5" y2="317.3" stroke="#cdcdcd" stroke-width="0.8"/>
<text x="425.0" y="326.7" font-size="6.6" font-weight="bold" text-anchor="middle" fill="#333" stroke="#333" stroke-width="0.12" transform="translate(425.0 0) scale(0.8 1) translate(-425.0 0)">6</text>
<line x1="447.0" y1="315.3" x2="447.0" y2="317.3" stroke="#cdcdcd" stroke-width="0.8"/>
<text x="447.5" y="326.7" font-size="6.6" font-weight="bold" text-anchor="middle" fill="#333" stroke="#333" stroke-width="0.12" transform="translate(447.5 0) scale(0.8 1) translate(-447.5 0)">7</text>
<line x1="469.5" y1="315.3" x2="469.5" y2="317.3" stroke="#cdcdcd" stroke-width="0.8"/>
<text x="470.0" y="326.7" font-size="6.6" font-weight="bold" text-anchor="middle" fill="#333" stroke="#333" stroke-width="0.12" transform="translate(470.0 0) scale(0.8 1) translate(-470.0 0)">8</text>
<line x1="491.5" y1="315.3" x2="491.5" y2="317.3" stroke="#cdcdcd" stroke-width="0.8"/>
<text x="492.0" y="326.7" font-size="6.6" font-weight="bold" text-anchor="middle" fill="#333" stroke="#333" stroke-width="0.12" transform="translate(492.0 0) scale(0.8 1) translate(-492.0 0)">9</text>
<line x1="513.8" y1="315.3" x2="513.8" y2="317.3" stroke="#cdcdcd" stroke-width="0.8"/>
<text x="514.3" y="326.7" font-size="6.6" font-weight="bold" text-anchor="middle" fill="#333" stroke="#333" stroke-width="0.12" transform="translate(514.3 0) scale(0.8 1) translate(-514.3 0)">10</text>
<text x="385.5" y="334.5" font-size="6.5" font-weight="bold" text-anchor="start" fill="#111" stroke="#111" stroke-width="0.22">Years after HCT</text>
<text x="314.4" y="192.5" font-size="8.8" font-weight="bold" text-anchor="start" fill="#111" stroke="#111" stroke-width="0.22">Allogeneic HCT</text>
<line x1="302.3" y1="208.75" x2="324.65" y2="208.75" stroke="#111" stroke-width="1.9"/>
<text x="329.9" y="210.9" font-size="6.5" font-weight="bold" text-anchor="start" fill="#111" stroke="#111" stroke-width="0.22">Cardiotox, ≥2 CVRF</text>
<line x1="302.3" y1="221.0" x2="324.65" y2="221.0" stroke="#111" stroke-width="1.9" stroke-dasharray="6.1,4.2"/>
<text x="329.9" y="223.3" font-size="6.5" font-weight="bold" text-anchor="start" fill="#111" stroke="#111" stroke-width="0.22">Cardiotox, &lt;2 CVRF</text>
<text x="303.0" y="239.9" font-size="6.3" font-weight="bold" text-anchor="start" fill="#111" stroke="#111" stroke-width="0.22">P=0.03</text>
<polyline points="289.4,316.2 296.8,316.2 297.2,313.1 299.4,313.1 300.0,311.6 311.5,311.6 312.0,309.2 326.5,309.2 327.0,306.7 341.0,306.7 342.1,304.4 353.0,304.3 355.0,302.0 379.0,302.0 379.5,296.8 400.0,296.8 402.5,291.2 455.5,291.2 455.5,286.0 512.0,286.0" fill="none" stroke="#111" stroke-width="1.85" stroke-dasharray="6.4,4.2" stroke-dashoffset="4.4"/>
<polyline points="289.4,316.2 291.3,316.2 292.3,306.3 293.7,305.8 294.5,301.0 295.2,296.3 313.5,296.3 313.8,291.2 345.2,291.2 345.6,285.9 350.0,285.9 350.4,280.7 381.0,280.7 381.6,275.5 463.2,275.5 463.9,262.3 493.1,262.3 493.6,247.2 514.2,247.2" fill="none" stroke="#111" stroke-width="1.5" stroke-linejoin="miter"/>
</svg>
</body></html>
